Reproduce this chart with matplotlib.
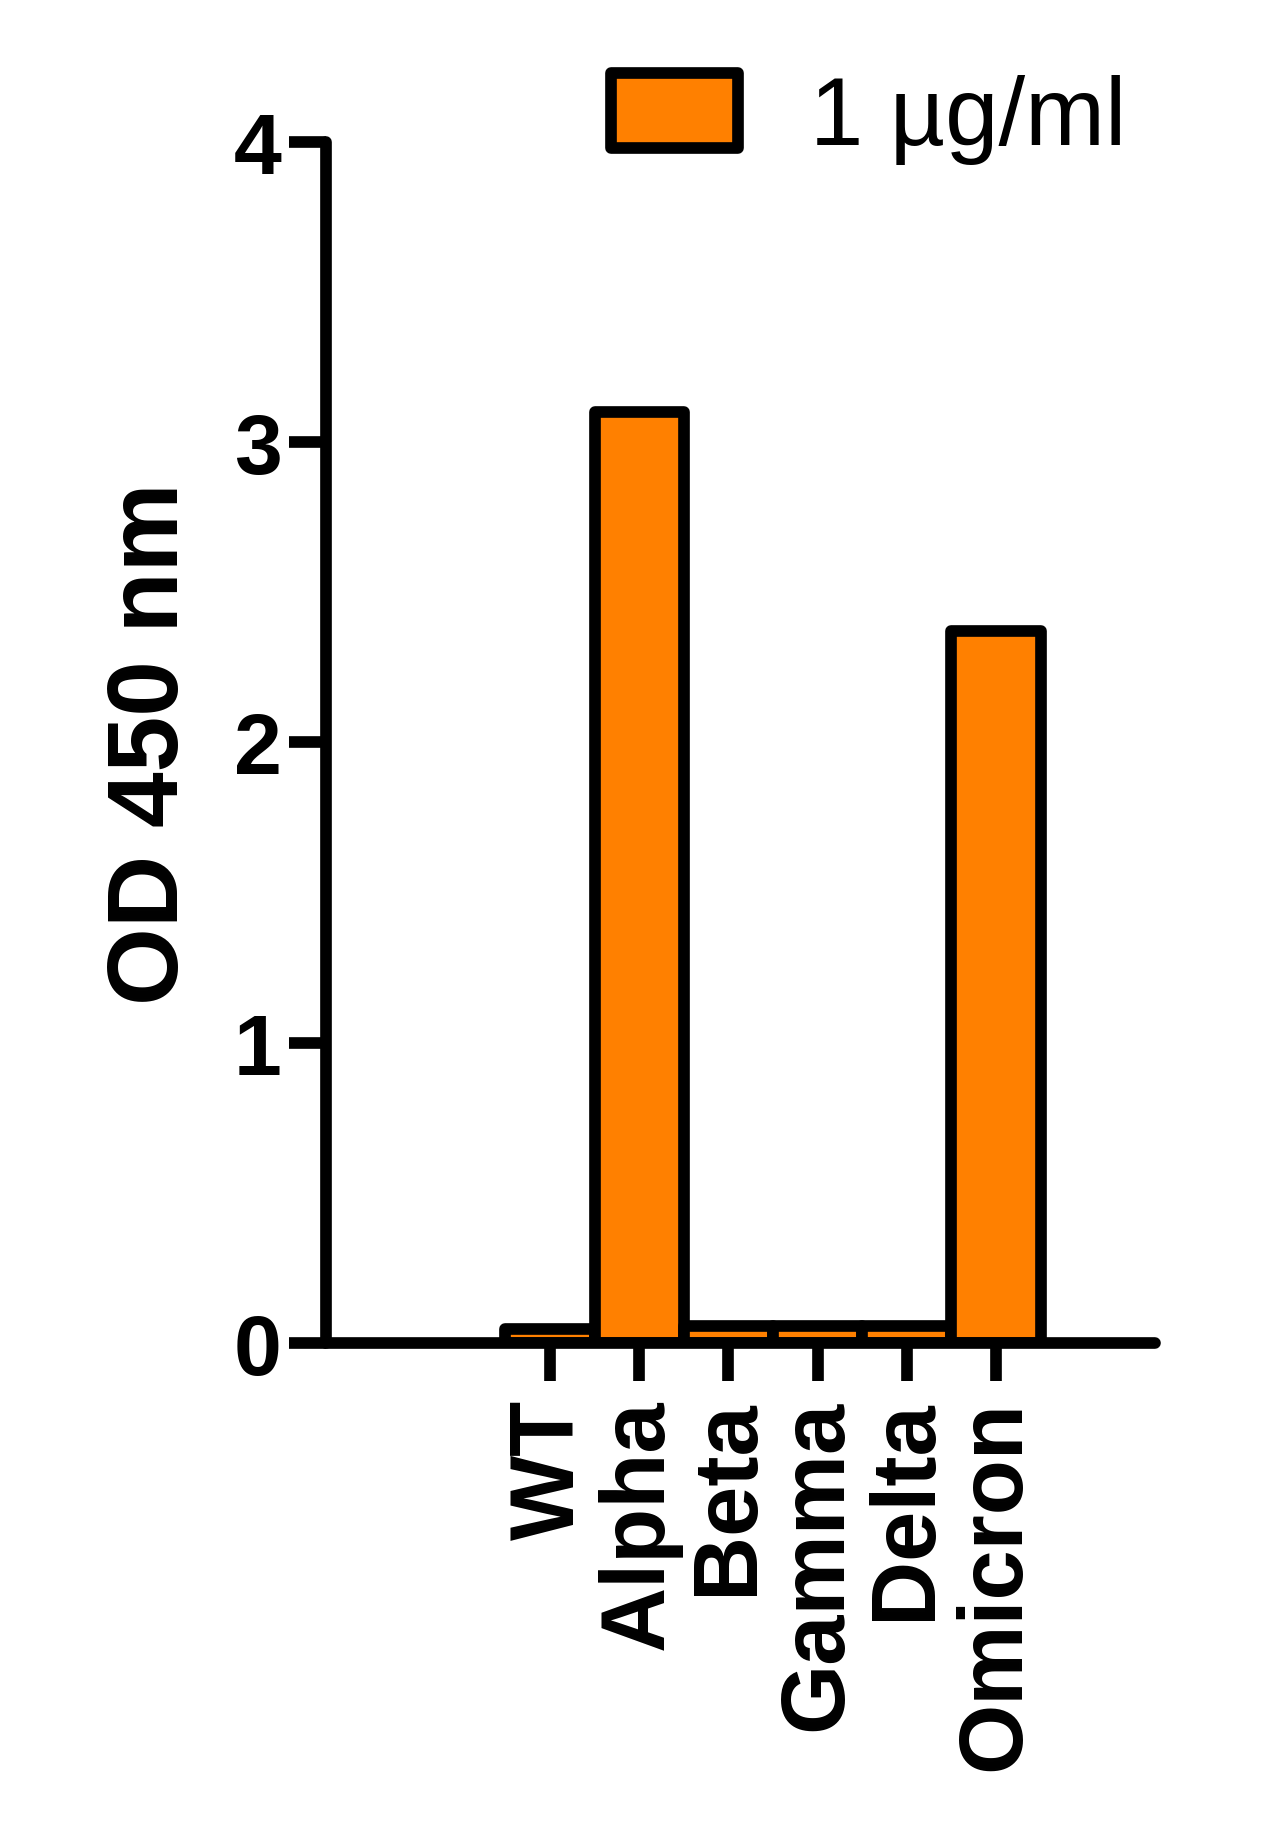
import matplotlib
matplotlib.use("Agg")
import matplotlib.pyplot as plt

categories = ["WT", "Alpha", "Beta", "Gamma", "Delta", "Omicron"]
od450 = [0.048, 3.10, 0.055, 0.055, 0.055, 2.37]
series_label = "1 µg/ml"
yticks = [0, 1, 2, 3, 4]

plt.rcParams['font.family'] = ['Liberation Sans', 'DejaVu Sans']

fig = plt.figure(figsize=(12.86, 18.33), dpi=100)
ax = fig.add_axes([0.2535, 0.2668, 0.898 - 0.2535, 0.922 - 0.2668])

LW = 8.4
ORANGE = "#FF8000"
x = list(range(len(categories)))
bars = ax.bar(x, od450, width=1.0, color=ORANGE, edgecolor="black",
              linewidth=LW, label=series_label, zorder=2)
for b in bars:
    b.set_joinstyle("round")

ax.set_xlim(-2.51, 6.78)
ax.set_ylim(0, 4)
ax.set_yticks(yticks)
ax.set_yticklabels([str(t) for t in yticks], fontsize=62, fontweight="bold")
ax.set_xticks(x)
ax.set_xticklabels(categories, rotation=90, fontsize=65, fontweight="bold")

for s in ["top", "right"]:
    ax.spines[s].set_visible(False)
for s in ["left", "bottom"]:
    ax.spines[s].set_linewidth(LW)
    ax.spines[s].set_capstyle("round")
    ax.spines[s].set_zorder(3)

ax.tick_params(axis="both", which="major", length=27, width=LW, direction="out")
ax.tick_params(axis="y", pad=5)
ax.tick_params(axis="x", pad=13)
for t in ax.xaxis.get_ticklines() + ax.yaxis.get_ticklines():
    t.set_solid_capstyle("round")

ax.set_ylabel("OD 450 nm", fontsize=72, fontweight="bold", labelpad=25)

leg = ax.legend(loc="upper left", bbox_to_anchor=(611 / 1286, 1 - 74 / 1833),
                bbox_transform=fig.transFigure, frameon=False, fontsize=69,
                handlelength=1.325, handleheight=0.825, handletextpad=0.75,
                borderpad=0, borderaxespad=0)
for p in leg.get_patches():
    p.set_joinstyle("round")

fig.savefig("out.png", dpi=100, facecolor="white")
